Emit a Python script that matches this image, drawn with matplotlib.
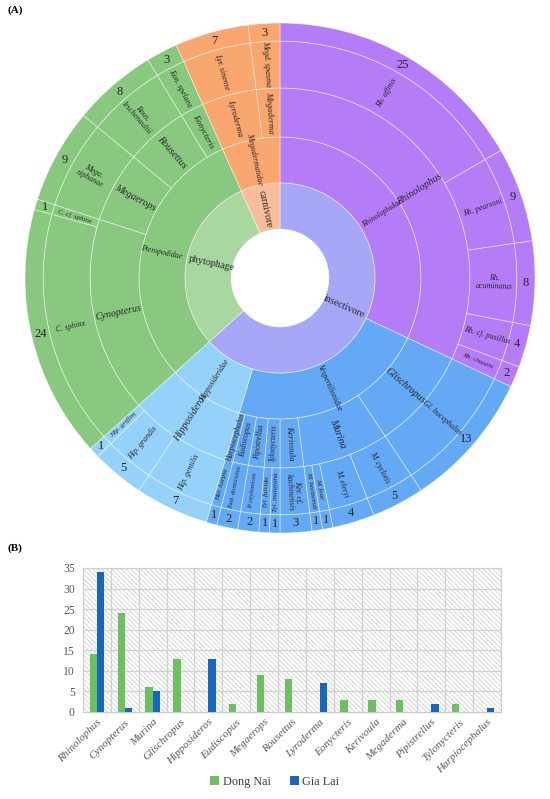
import numpy as np
import matplotlib
matplotlib.use("Agg")
import matplotlib.pyplot as plt

# ---------------- data ----------------
diets = ["insectivore", "phytophage", "carnivore"]
families = ["Rhinolophidae", "Vespertilionidae", "Hipposideridae", "Pteropodidae", "Megadermatidae"]
family_diet = ["insectivore", "insectivore", "insectivore", "phytophage", "carnivore"]
genera = ["Rhinolophus", "Glischropus", "Murina", "Kerivoula", "Tylonycteris", "Pipistrellus",
          "Eudiscopus", "Harpiocephalus", "Hipposideros", "Cynopterus", "Megaerops", "Rousettus",
          "Eonycteris", "Lyroderma", "Megaderma"]
genus_family = ["Rhinolophidae", "Vespertilionidae", "Vespertilionidae", "Vespertilionidae",
                "Vespertilionidae", "Vespertilionidae", "Vespertilionidae", "Vespertilionidae",
                "Hipposideridae", "Pteropodidae", "Pteropodidae", "Pteropodidae", "Pteropodidae",
                "Megadermatidae", "Megadermatidae"]
species = ["Rh. affinis", "Rh. pearsoni", "Rh.\nacuminatus", "Rh. cf. pusillus", "Rh. chaseni",
           "Gl. bucephalus",
           "M. cyclotis", "M. eleryi", "M. feae", "M. beelzebub",
           "Ker. cf.\nkachinensis",
           "Tyl. malayana", "Tyl. fulvida",
           "P. ceylonicus", "Eud. denticulus", "Har. harpia",
           "Hip. gentilis", "Hip. grandis", "Hip. griffini",
           "C. sphinx", "C. cf. sphinx", "Mega.\nniphanae", "Rous.\nleschenaultii", "Eon. spelaea",
           "Lyr. sinense", "Megd. spasma"]
species_genus = ["Rhinolophus"] * 5 + ["Glischropus"] + ["Murina"] * 4 + ["Kerivoula"] + \
                ["Tylonycteris"] * 2 + ["Pipistrellus", "Eudiscopus", "Harpiocephalus"] + \
                ["Hipposideros"] * 3 + ["Cynopterus"] * 2 + ["Megaerops", "Rousettus", "Eonycteris"] + \
                ["Lyroderma", "Megaderma"]
species_counts = [25, 9, 8, 4, 2, 13, 5, 4, 1, 1, 3, 1, 1, 2, 2, 1, 7, 5, 1, 24, 1, 9, 8, 3, 7, 3]

bar_genera = ["Rhinolophus", "Cynopterus", "Murina", "Glischropus", "Hipposideros", "Eudiscopus",
              "Megaerops", "Rousettus", "Lyroderma", "Eonycteris", "Kerivoula", "Megaderma",
              "Pipistrellus", "Tylonycteris", "Harpiocephalus"]
dong_nai = [14, 24, 6, 13, 0, 2, 9, 8, 0, 3, 3, 3, 0, 2, 0]
gia_lai = [34, 1, 5, 0, 13, 0, 0, 0, 7, 0, 0, 0, 2, 0, 1]
yticks = [0, 5, 10, 15, 20, 25, 30, 35]

# ---------------- aggregation ----------------
genus_counts = [sum(c for c, g in zip(species_counts, species_genus) if g == gen) for gen in genera]
family_counts = [sum(c for c, f in zip(genus_counts, genus_family) if f == fam) for fam in families]
diet_counts = [sum(c for c, d in zip(family_counts, family_diet) if d == di) for di in diets]

fam_colors = {"Rhinolophidae": "#b57cf8", "Vespertilionidae": "#64a9f6", "Hipposideridae": "#95d2fb",
              "Pteropodidae": "#88c97f", "Megadermatidae": "#f9a66f"}
diet_colors = {"insectivore": "#a6a8f7", "phytophage": "#a9d79f", "carnivore": "#f9bd9b"}

g2f = dict(zip(genera, genus_family))
genus_cols = [fam_colors[f] for f in genus_family]
species_cols = [fam_colors[g2f[g]] for g in species_genus]
family_cols = [fam_colors[f] for f in families]
diet_cols = [diet_colors[d] for d in diets]

plt.rcParams['font.family'] = ['Liberation Serif', 'DejaVu Serif']
W, H = 550, 799
fig = plt.figure(figsize=(W / 100, H / 100), dpi=100)

# ---------------- sunburst ----------------
cx, cy, R = 280, 278, 255
ax = fig.add_axes([(cx - R) / W, (H - cy - R) / H, 2 * R / W, 2 * R / H])
radii = [0.192, 0.373, 0.553, 0.745, 0.929, 1.0]
edge = dict(edgecolor=(1, 1, 1, 0.6), linewidth=0.5)

rings = [
    (diet_counts, diet_cols, radii[0], radii[1]),
    (family_counts, family_cols, radii[1], radii[2]),
    (genus_counts, genus_cols, radii[2], radii[3]),
    (species_counts, species_cols, radii[3], radii[4]),
    (species_counts, species_cols, radii[4], radii[5]),
]
for vals, cols, r0, r1 in rings:
    ax.pie(vals, radius=r1, colors=cols, startangle=90, counterclock=False,
           wedgeprops=dict(width=r1 - r0, **edge))

total = float(sum(species_counts))
txtc = "#262626"


def put_labels(vals, labels, r0, r1, sizefn, italic=True, radial=True, roff=0.0):
    cum = 0.0
    for v, lab in zip(vals, labels):
        mid = cum + v / 2.0
        cum += v
        ang = 90 - mid / total * 360.0
        rr = (r0 + r1) / 2.0 + roff
        x, y = rr * np.cos(np.radians(ang)), rr * np.sin(np.radians(ang))
        rot = ((ang + 180) % 360) - 180
        if rot > 90:
            rot -= 180
        elif rot < -90:
            rot += 180
        if not radial:
            rot = 0
        ax.text(x, y, lab, ha="center", va="center", rotation=rot, rotation_mode="anchor",
                fontsize=sizefn(v), style="italic" if italic else "normal", color=txtc,
                linespacing=1.0)


put_labels(diet_counts, diets, radii[0], radii[1], lambda v: 7.2, italic=False, roff=-0.008)
put_labels(family_counts, families, radii[1], radii[2], lambda v: 5.6, roff=0.012)
put_labels(genus_counts, genera, radii[2], radii[3],
           lambda v: 7.3 if v >= 8 else (6.2 if v >= 3 else 5.6), roff=0.0)
put_labels(species_counts, species, radii[3], radii[4],
           lambda v: 5.7 if v >= 3 else 5.0, roff=0.004)
put_labels(species_counts, [str(c) for c in species_counts], radii[4], radii[5],
           lambda v: 9.0, italic=False, radial=False, roff=0.0)
ax.set_xlim(-1, 1)
ax.set_ylim(-1, 1)
ax.set_aspect("equal")
ax.axis("off")

fig.text(8 / W, 1 - 10 / H, "(A)", fontsize=8, fontweight="bold", va="center", ha="left")
fig.text(8 / W, 1 - 548 / H, "(B)", fontsize=8, fontweight="bold", va="center", ha="left")

# ---------------- bar chart ----------------
plt.rcParams['hatch.linewidth'] = 0.5
plt.rcParams['hatch.color'] = "#c9c9c9"
bx0, bx1, by0, by1 = 83, 501, 568, 712
bax = fig.add_axes([bx0 / W, (H - by1) / H, (bx1 - bx0) / W, (by1 - by0) / H])
bg = plt.Rectangle((0, 0), 1, 1, transform=bax.transAxes, facecolor="white",
                   edgecolor="#c9c9c9", hatch="\\" * 7, linewidth=0, zorder=0)
bax.add_patch(bg)
x = np.arange(len(bar_genera))
w = 0.26
bax.bar(x - w / 2, dong_nai, w, color="#6dc05f", zorder=3, label="Dong Nai")
bax.bar(x + w / 2, gia_lai, w, color="#1667bd", zorder=3, label="Gia Lai")
bax.set_xlim(-0.5, len(bar_genera) - 0.5)
bax.set_ylim(0, 35)
bax.set_yticks(yticks)
bax.set_xticks(x)
bax.set_xticklabels(bar_genera, rotation=45, ha="right", rotation_mode="anchor",
                    style="italic", fontsize=8, color="#595959")
bax.tick_params(axis="y", labelsize=8.4, colors="#595959", length=0, pad=6)
bax.tick_params(axis="x", length=0, pad=4)
for yv in yticks[1:]:
    bax.axhline(yv, color="#d0d0d0", lw=0.9, zorder=1)
for xv in np.arange(-0.5, len(bar_genera), 1.0):
    bax.axvline(xv, color="#d0d0d0", lw=0.9, zorder=1)
for s in bax.spines.values():
    s.set_color("#d0d0d0")
    s.set_linewidth(0.9)
bax.spines["bottom"].set_color("#c8c8c8")

fig.legend(loc="lower center", bbox_to_anchor=(0.5, 0.0), ncol=2, frameon=False,
           fontsize=8.8, handlelength=0.7, handleheight=0.7, handletextpad=0.3,
           columnspacing=1.6, labelcolor="#404040")

fig.savefig("out.png", dpi=100)
